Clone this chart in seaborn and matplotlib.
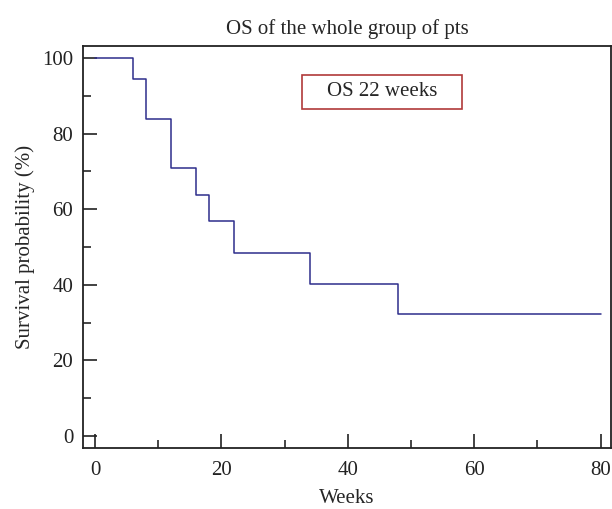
import matplotlib
matplotlib.use("Agg")
import matplotlib.pyplot as plt
import seaborn as sns
import pandas as pd
from matplotlib.ticker import MultipleLocator
from matplotlib.patches import Rectangle

weeks = [0, 6, 8, 12, 16, 18, 22, 34, 48, 80]
survival = [100, 94.5, 83.8, 70.9, 63.8, 57.0, 48.4, 40.2, 32.3, 32.3]
title = "OS of the whole group of pts"
legend_text = "OS 22 weeks"

sns.set_theme(style="ticks")
plt.rcParams['font.family'] = ['Liberation Serif', 'DejaVu Serif']

df = pd.DataFrame({"Weeks": weeks, "Survival": survival})

fig = plt.figure(figsize=(6.12, 5.09), dpi=100)
ax = fig.add_axes([0.1356, 0.1198, 0.8624, 0.7898])
sns.lineplot(data=df, x="Weeks", y="Survival", drawstyle="steps-post",
             color="#2e2e8c", linewidth=1.1, ax=ax)

ax.set_xlim(-1.9, 81.6)
ax.set_ylim(-3.2, 103.2)
ax.xaxis.set_major_locator(MultipleLocator(20))
ax.xaxis.set_minor_locator(MultipleLocator(10))
ax.yaxis.set_major_locator(MultipleLocator(20))
ax.yaxis.set_minor_locator(MultipleLocator(10))
ax.tick_params(which="major", direction="in", length=10, width=1.2, labelsize=15,
               colors="#222222", top=False, right=False)
ax.tick_params(axis="y", which="major", pad=7)
ax.tick_params(axis="x", which="major", pad=9)
ax.tick_params(which="minor", direction="in", length=6, width=1.2, top=False, right=False)
for s in ax.spines.values():
    s.set_linewidth(1.3)
    s.set_color("#222222")

ax.set_xlabel("Weeks", fontsize=15, labelpad=7)
ax.set_ylabel("Survival probability (%)", fontsize=15, labelpad=5)
ax.set_title(title, fontsize=15, pad=9)

ax.add_patch(Rectangle((0.415, 0.843), 0.303, 0.085, transform=ax.transAxes,
                       facecolor="white", edgecolor="#b03a3a", linewidth=1.2, zorder=3))
ax.text(0.566, 0.886, legend_text, transform=ax.transAxes, fontsize=15,
        ha="center", va="center", zorder=4)

fig.savefig("out.png", dpi=100)
